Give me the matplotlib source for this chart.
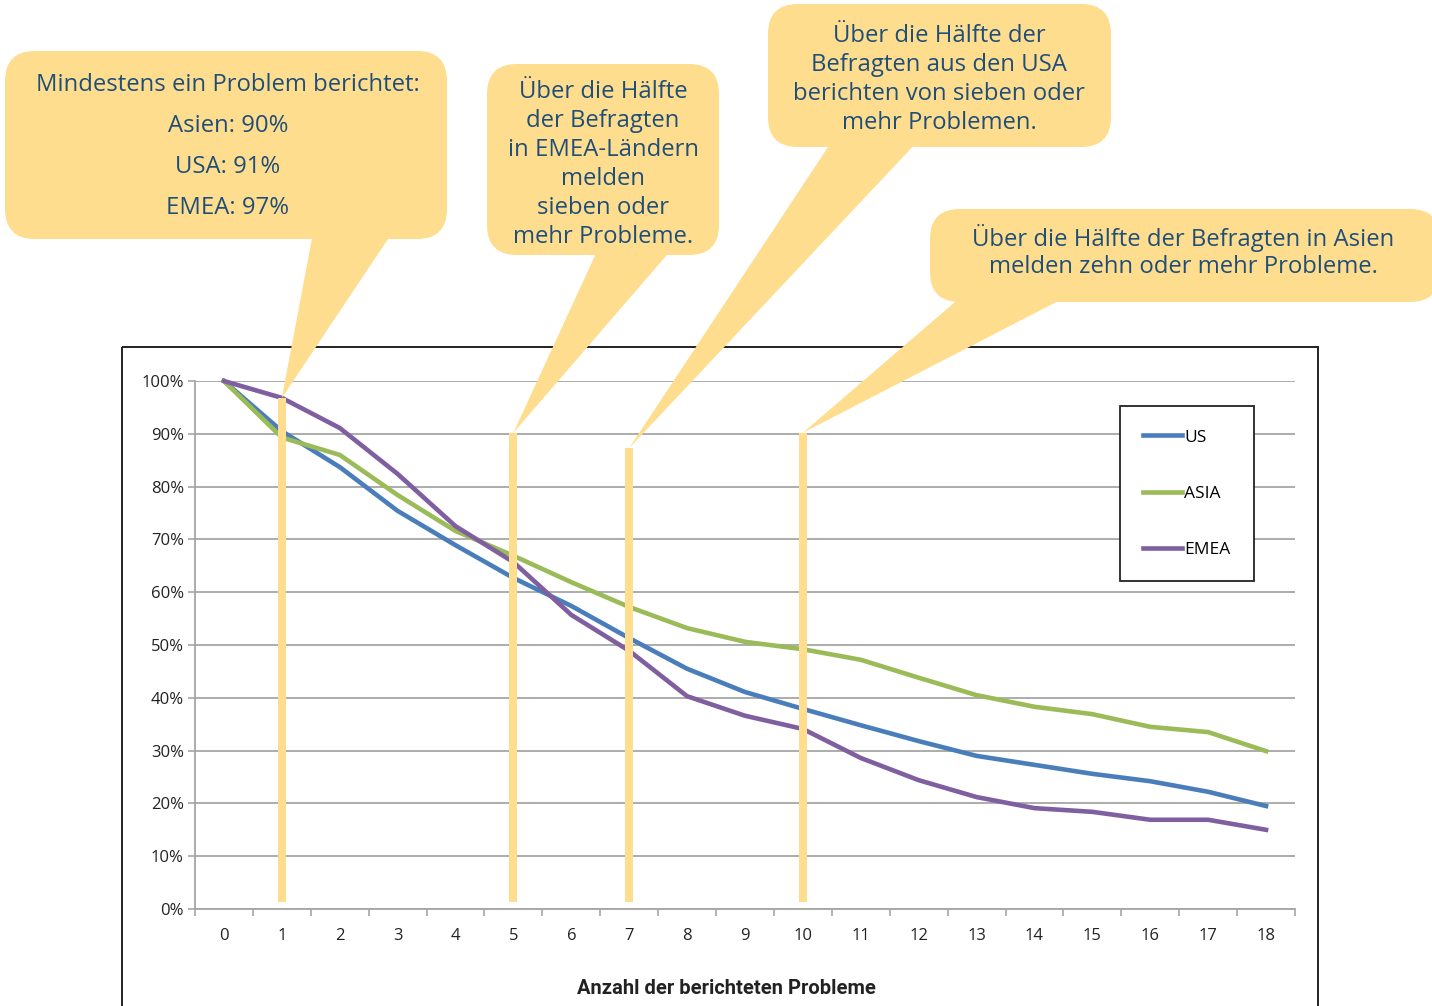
import numpy as np
import matplotlib
matplotlib.use('Agg')
import matplotlib.pyplot as plt
from matplotlib.patches import FancyBboxPatch, Polygon, Rectangle

# data
probleme = list(range(19))
us = [100, 90.5, 83.7, 75.4, 68.9, 62.7, 57.4, 51.3, 45.5, 41.1, 37.9, 34.8, 31.8, 29.0, 27.3, 25.6, 24.2, 22.2, 19.5]
asia = [100, 89.3, 86.0, 78.4, 71.6, 66.9, 61.9, 57.2, 53.2, 50.6, 49.2, 47.2, 43.8, 40.5, 38.3, 36.9, 34.5, 33.5, 29.9]
emea = [100, 96.8, 91.1, 82.4, 72.5, 65.7, 55.7, 48.9, 40.3, 36.6, 34.1, 28.6, 24.4, 21.2, 19.1, 18.4, 16.9, 16.9, 15.0]

# yellow marker bars (x position, top value)
bar_x = [1, 5, 7, 10]
bar_top = [96.8, 90.2, 87.3, 90.2]
bar_bottom = 1.3

callout_lines = [
    ["Mindestens ein Problem berichtet:", "Asien: 90%", "USA: 91%", "EMEA: 97%"],
    ["Über die Hälfte", "der Befragten", "in EMEA-Ländern", "melden", "sieben oder", "mehr Probleme."],
    ["Über die Hälfte der", "Befragten aus den USA", "berichten von sieben oder", "mehr Problemen."],
    ["Über die Hälfte der Befragten in Asien", "melden zehn oder mehr Probleme."],
]

W, H = 1432, 1006
YELLOW = '#FFDD8E'
TXT = '#1F4E79'
GRID = '#A6A6A6'

fig = plt.figure(figsize=(W / 100, H / 100), dpi=100)
ax = fig.add_axes([195 / W, 1 - 909 / H, 1100 / W, 528 / H])
ax.set_xlim(-0.5, 18.5)
ax.set_ylim(0, 100)

ax.plot(probleme, us, color='#4A7EBB', lw=3.3, label='US', clip_on=False, zorder=3)
ax.plot(probleme, asia, color='#9BBB59', lw=3.3, label='ASIA', clip_on=False, zorder=3)
ax.plot(probleme, emea, color='#7F5FA0', lw=3.3, label='EMEA', clip_on=False, zorder=3)

ax.bar(bar_x, np.array(bar_top) - bar_bottom, bottom=bar_bottom, width=0.14,
       color=YELLOW, zorder=4)

ax.set_yticks(range(0, 101, 10))
ax.set_yticklabels(['%d%%' % v for v in range(0, 101, 10)])
ax.yaxis.grid(True, color=GRID, lw=1.3)
ax.set_axisbelow(True)
ax.set_xticks(np.arange(-0.5, 18.6, 1))
ax.set_xticklabels([])
ax.set_xticks(probleme, minor=True)
ax.set_xticklabels([str(p) for p in probleme], minor=True)
ax.tick_params(axis='x', which='major', length=5, color=GRID, width=1.2)
ax.tick_params(axis='x', which='minor', length=0, pad=14, labelsize=12, labelcolor='#222222')
ax.tick_params(axis='y', length=5, color=GRID, width=1.2, pad=3, labelsize=12, labelcolor='#222222')
for t in ax.get_xticklabels(minor=True) + ax.get_yticklabels():
    t.set_family('Open Sans')
for s in ['top', 'right']:
    ax.spines[s].set_visible(False)
for s in ['left', 'bottom']:
    ax.spines[s].set_color(GRID)
    ax.spines[s].set_linewidth(1.3)

leg = ax.legend(loc='upper left', bbox_to_anchor=(0.8409, 0.9527), borderaxespad=0,
                fancybox=False, edgecolor='#222222', framealpha=1, labelspacing=2.3,
                borderpad=1.35, handlelength=2.2, handletextpad=0.15,
                prop={'family': 'Open Sans', 'size': 12.5})
leg.get_frame().set_linewidth(1.3)

fig.text(726 / W, 1 - 988 / H, 'Anzahl der berichteten Probleme', ha='center', va='center',
         fontsize=14.5, fontweight='bold', family='Roboto', color='#222222')

# overlay in pixel coordinates for frame and callouts
ov = fig.add_axes([0, 0, 1, 1], zorder=5)
ov.set_xlim(0, W)
ov.set_ylim(H, 0)
ov.axis('off')
ov.patch.set_alpha(0)

ov.add_patch(Rectangle((122, 347), 1318 - 122, 700, fill=False, ec='#222222', lw=1.4, zorder=1))

boxes = [(5, 51, 447, 239), (487, 64, 719, 255), (768, 4, 1111, 147), (930, 209, 1440, 302)]
bases = [(313, 392), (598, 672), (832, 918), (962, 1068)]
text_x = [228, 603, 939, 1183]
first_line = [82, 89, 33, 235]
pitch = [41, 29, 29, 29]

fig.canvas.draw()
to_ov = ax.transData + ov.transData.inverted()
for i, (x0, y0, x1, y1) in enumerate(boxes):
    ov.add_patch(FancyBboxPatch((x0, y0), x1 - x0, y1 - y0,
                                boxstyle='round,pad=0,rounding_size=30',
                                fc=YELLOW, ec='none', zorder=2))
    tip = to_ov.transform((bar_x[i], bar_top[i]))
    bl, br = bases[i]
    ov.add_patch(Polygon([(bl, y1 - 6), (br, y1 - 6), tuple(tip)], closed=True,
                         fc=YELLOW, ec='none', zorder=2))
    for j, line in enumerate(callout_lines[i]):
        ov.text(text_x[i], first_line[i] + j * pitch[i], line,
                ha='center', va='center_baseline', fontsize=17.2, family='Open Sans',
                color=TXT, zorder=3)

fig.savefig('out.png', dpi=100)
